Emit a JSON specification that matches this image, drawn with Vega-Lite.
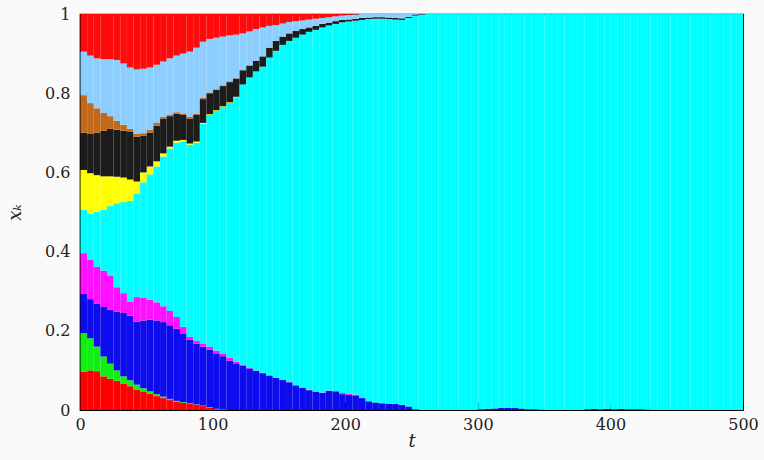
{
  "$schema": "https://vega.github.io/schema/vega-lite/v6.json",
  "width": 663,
  "height": 396,
  "autosize": {"type": "none"},
  "padding": {"left": 80, "top": 14, "right": 21, "bottom": 50},
  "background": "#fafafa",
  "config": {
    "view": {"stroke": "#000", "strokeWidth": 1.2},
    "font": "DejaVu Serif",
    "axis": {
      "domainColor": "#000",
      "domainWidth": 1.2,
      "tickColor": "#000",
      "tickWidth": 1,
      "tickSize": -8,
      "grid": false,
      "labelFlush": false,
      "labelFont": "DejaVu Serif",
      "labelFontSize": 16,
      "labelColor": "#222",
      "titleFont": "DejaVu Serif",
      "titleFontSize": 18,
      "titleFontStyle": "italic",
      "titleFontWeight": "normal",
      "titleColor": "#222"
    }
  },
  "data": {
    "values": [
      {"t":0,"k0":0.097,"k1":0.097,"k2":0.099,"k3":0.103,"k4":0.109,"k5":0.101,"k6":0.094,"k7":0.095,"k8":0.110,"k9":0.095},
      {"t":5,"k0":0.100,"k1":0.081,"k2":0.099,"k3":0.100,"k4":0.115,"k5":0.103,"k6":0.099,"k7":0.078,"k8":0.120,"k9":0.105},
      {"t":10,"k0":0.098,"k1":0.062,"k2":0.109,"k3":0.093,"k4":0.138,"k5":0.093,"k6":0.107,"k7":0.062,"k8":0.126,"k9":0.112},
      {"t":15,"k0":0.085,"k1":0.050,"k2":0.125,"k3":0.092,"k4":0.153,"k5":0.085,"k6":0.115,"k7":0.045,"k8":0.136,"k9":0.114},
      {"t":20,"k0":0.079,"k1":0.038,"k2":0.136,"k3":0.087,"k4":0.175,"k5":0.075,"k6":0.120,"k7":0.032,"k8":0.144,"k9":0.114},
      {"t":25,"k0":0.074,"k1":0.026,"k2":0.148,"k3":0.062,"k4":0.212,"k5":0.067,"k6":0.119,"k7":0.022,"k8":0.154,"k9":0.116},
      {"t":30,"k0":0.067,"k1":0.018,"k2":0.160,"k3":0.050,"k4":0.230,"k5":0.062,"k6":0.118,"k7":0.015,"k8":0.155,"k9":0.125},
      {"t":35,"k0":0.060,"k1":0.015,"k2":0.163,"k3":0.036,"k4":0.254,"k5":0.054,"k6":0.120,"k7":0.008,"k8":0.155,"k9":0.135},
      {"t":40,"k0":0.051,"k1":0.013,"k2":0.159,"k3":0.062,"k4":0.262,"k5":0.030,"k6":0.113,"k7":0.007,"k8":0.163,"k9":0.140},
      {"t":45,"k0":0.047,"k1":0.008,"k2":0.171,"k3":0.057,"k4":0.292,"k5":0.025,"k6":0.092,"k7":0.007,"k8":0.163,"k9":0.138},
      {"t":50,"k0":0.041,"k1":0.006,"k2":0.181,"k3":0.050,"k4":0.317,"k5":0.020,"k6":0.085,"k7":0.008,"k8":0.157,"k9":0.135},
      {"t":55,"k0":0.035,"k1":0.005,"k2":0.186,"k3":0.046,"k4":0.343,"k5":0.013,"k6":0.090,"k7":0.007,"k8":0.147,"k9":0.128},
      {"t":60,"k0":0.030,"k1":0.004,"k2":0.188,"k3":0.040,"k4":0.378,"k5":0.008,"k6":0.087,"k7":0.005,"k8":0.140,"k9":0.120},
      {"t":65,"k0":0.025,"k1":0.003,"k2":0.186,"k3":0.036,"k4":0.410,"k5":0.005,"k6":0.077,"k7":0.004,"k8":0.142,"k9":0.112},
      {"t":70,"k0":0.021,"k1":0.002,"k2":0.182,"k3":0.030,"k4":0.440,"k5":0.005,"k6":0.068,"k7":0.004,"k8":0.143,"k9":0.105},
      {"t":75,"k0":0.018,"k1":0.002,"k2":0.172,"k3":0.018,"k4":0.468,"k5":0.004,"k6":0.063,"k7":0.004,"k8":0.151,"k9":0.100},
      {"t":80,"k0":0.016,"k1":0.001,"k2":0.161,"k3":0.007,"k4":0.485,"k5":0.003,"k6":0.062,"k7":0.005,"k8":0.165,"k9":0.095},
      {"t":85,"k0":0.013,"k1":0.001,"k2":0.154,"k3":0.007,"k4":0.500,"k5":0.003,"k6":0.067,"k7":0.003,"k8":0.167,"k9":0.085},
      {"t":90,"k0":0.010,"k1":0.001,"k2":0.149,"k3":0.008,"k4":0.554,"k5":0.003,"k6":0.060,"k7":0.003,"k8":0.142,"k9":0.070},
      {"t":95,"k0":0.006,"k1":0.001,"k2":0.145,"k3":0.008,"k4":0.585,"k5":0.002,"k6":0.053,"k7":0.002,"k8":0.135,"k9":0.063},
      {"t":100,"k0":0.002,"k1":0.001,"k2":0.140,"k3":0.007,"k4":0.605,"k5":0.002,"k6":0.051,"k7":0.002,"k8":0.130,"k9":0.060},
      {"t":105,"k1":0.001,"k2":0.135,"k3":0.007,"k4":0.622,"k5":0.002,"k6":0.051,"k7":0.002,"k8":0.123,"k9":0.057},
      {"t":110,"k2":0.125,"k3":0.007,"k4":0.643,"k5":0.002,"k6":0.051,"k7":0.002,"k8":0.116,"k9":0.054},
      {"t":115,"k2":0.118,"k3":0.004,"k4":0.668,"k5":0.001,"k6":0.046,"k7":0.001,"k8":0.110,"k9":0.052},
      {"t":120,"k2":0.112,"k3":0.003,"k4":0.707,"k6":0.036,"k8":0.093,"k9":0.049},
      {"t":125,"k2":0.105,"k3":0.002,"k4":0.733,"k6":0.030,"k8":0.086,"k9":0.044},
      {"t":130,"k2":0.099,"k3":0.001,"k4":0.755,"k6":0.027,"k8":0.080,"k9":0.038},
      {"t":135,"k2":0.093,"k3":0.001,"k4":0.773,"k6":0.026,"k8":0.073,"k9":0.034},
      {"t":140,"k2":0.087,"k3":0.001,"k4":0.802,"k6":0.025,"k8":0.055,"k9":0.030},
      {"t":145,"k2":0.081,"k3":0.001,"k4":0.825,"k6":0.025,"k8":0.040,"k9":0.028},
      {"t":150,"k2":0.076,"k3":0.001,"k4":0.845,"k6":0.021,"k8":0.033,"k9":0.024},
      {"t":155,"k2":0.070,"k3":0.001,"k4":0.861,"k6":0.019,"k8":0.029,"k9":0.020},
      {"t":160,"k2":0.062,"k3":0.001,"k4":0.877,"k6":0.017,"k8":0.025,"k9":0.018},
      {"t":165,"k2":0.056,"k3":0.001,"k4":0.891,"k6":0.014,"k8":0.022,"k9":0.016},
      {"t":170,"k2":0.050,"k3":0.001,"k4":0.904,"k6":0.011,"k8":0.020,"k9":0.014},
      {"t":175,"k2":0.046,"k3":0.001,"k4":0.913,"k6":0.010,"k8":0.018,"k9":0.012},
      {"t":180,"k2":0.043,"k3":0.001,"k4":0.922,"k6":0.009,"k8":0.015,"k9":0.010},
      {"t":185,"k2":0.048,"k3":0.001,"k4":0.922,"k6":0.007,"k8":0.014,"k9":0.008},
      {"t":190,"k2":0.047,"k3":0.001,"k4":0.927,"k6":0.007,"k8":0.012,"k9":0.006},
      {"t":195,"k2":0.040,"k3":0.003,"k4":0.936,"k6":0.006,"k8":0.011,"k9":0.004},
      {"t":200,"k2":0.038,"k3":0.003,"k4":0.940,"k6":0.005,"k8":0.012,"k9":0.002},
      {"t":205,"k2":0.037,"k3":0.002,"k4":0.944,"k6":0.005,"k8":0.011,"k9":0.001},
      {"t":210,"k2":0.030,"k4":0.955,"k6":0.005,"k8":0.010},
      {"t":215,"k2":0.022,"k4":0.965,"k6":0.004,"k8":0.009},
      {"t":220,"k2":0.019,"k4":0.969,"k6":0.004,"k8":0.008},
      {"t":225,"k2":0.017,"k4":0.971,"k6":0.004,"k8":0.008},
      {"t":230,"k2":0.016,"k4":0.971,"k6":0.004,"k8":0.009},
      {"t":235,"k2":0.015,"k4":0.971,"k6":0.004,"k8":0.010},
      {"t":240,"k2":0.013,"k4":0.972,"k6":0.004,"k8":0.011},
      {"t":245,"k2":0.009,"k4":0.981,"k6":0.003,"k8":0.007},
      {"t":250,"k2":0.002,"k4":0.994,"k6":0.002,"k8":0.002},
      {"t":255,"k4":0.998,"k6":0.001,"k8":0.001},
      {"t":260,"k4":1},
      {"t":265,"k4":1},
      {"t":270,"k4":1},
      {"t":275,"k4":1},
      {"t":280,"k4":1},
      {"t":285,"k4":1},
      {"t":290,"k4":1},
      {"t":295,"k4":1},
      {"t":300,"k2":0.002,"k4":0.998},
      {"t":305,"k2":0.003,"k4":0.997},
      {"t":310,"k2":0.004,"k4":0.996},
      {"t":315,"k2":0.005,"k4":0.995},
      {"t":320,"k2":0.006,"k4":0.994},
      {"t":325,"k2":0.005,"k4":0.995},
      {"t":330,"k2":0.004,"k4":0.996},
      {"t":335,"k2":0.002,"k4":0.998},
      {"t":340,"k2":0.002,"k4":0.998},
      {"t":345,"k2":0.001,"k4":0.999},
      {"t":350,"k4":1},
      {"t":355,"k4":1},
      {"t":360,"k4":1},
      {"t":365,"k4":1},
      {"t":370,"k4":1},
      {"t":375,"k4":1},
      {"t":380,"k2":0.002,"k4":0.998},
      {"t":385,"k2":0.003,"k4":0.997},
      {"t":390,"k2":0.002,"k4":0.998},
      {"t":395,"k2":0.003,"k4":0.997},
      {"t":400,"k2":0.002,"k4":0.998},
      {"t":405,"k2":0.003,"k4":0.997},
      {"t":410,"k2":0.002,"k4":0.998},
      {"t":415,"k2":0.002,"k4":0.998},
      {"t":420,"k2":0.002,"k4":0.998},
      {"t":425,"k2":0.001,"k4":0.999},
      {"t":430,"k4":1},
      {"t":435,"k4":1},
      {"t":440,"k4":1},
      {"t":445,"k4":1},
      {"t":450,"k4":1},
      {"t":455,"k4":1},
      {"t":460,"k4":1},
      {"t":465,"k4":1},
      {"t":470,"k4":1},
      {"t":475,"k4":1},
      {"t":480,"k4":1},
      {"t":485,"k4":1},
      {"t":490,"k4":1},
      {"t":495,"k4":1}
    ]
  },
  "transform": [
    {"fold": ["k0","k1","k2","k3","k4","k5","k6","k7","k8","k9"], "as": ["s","v"]},
    {"filter": "isValid(datum.v)"}
  ],
  "mark": {"type": "bar", "binSpacing": 0, "clip": true},
  "encoding": {
    "x": {
      "field": "t",
      "type": "quantitative",
      "bin": {"binned": true, "step": 5},
      "scale": {"domain": [0, 500], "nice": false},
      "axis": {"values": [0,100,200,300,400,500], "format": "d", "title": "t", "labelPadding": 14, "titlePadding": 0}
    },
    "y": {
      "field": "v",
      "type": "quantitative",
      "stack": "zero",
      "scale": {"domain": [0, 1], "nice": false},
      "axis": {"values": [0,0.2,0.4,0.6,0.8,1], "format": "~g", "title": "xₖ", "labelPadding": 18, "titlePadding": 20}
    },
    "color": {
      "field": "s",
      "type": "nominal",
      "scale": {
        "domain": ["k0","k1","k2","k3","k4","k5","k6","k7","k8","k9"],
        "range": ["#ff0000","#11ee11","#0c0cee","#ff10ff","#00ffff","#ffff00","#1c1c1c","#c26a1c","#8ccfff","#ff0a0a"]
      },
      "legend": null
    },
    "order": {"field": "s", "sort": "ascending"}
  }
}
